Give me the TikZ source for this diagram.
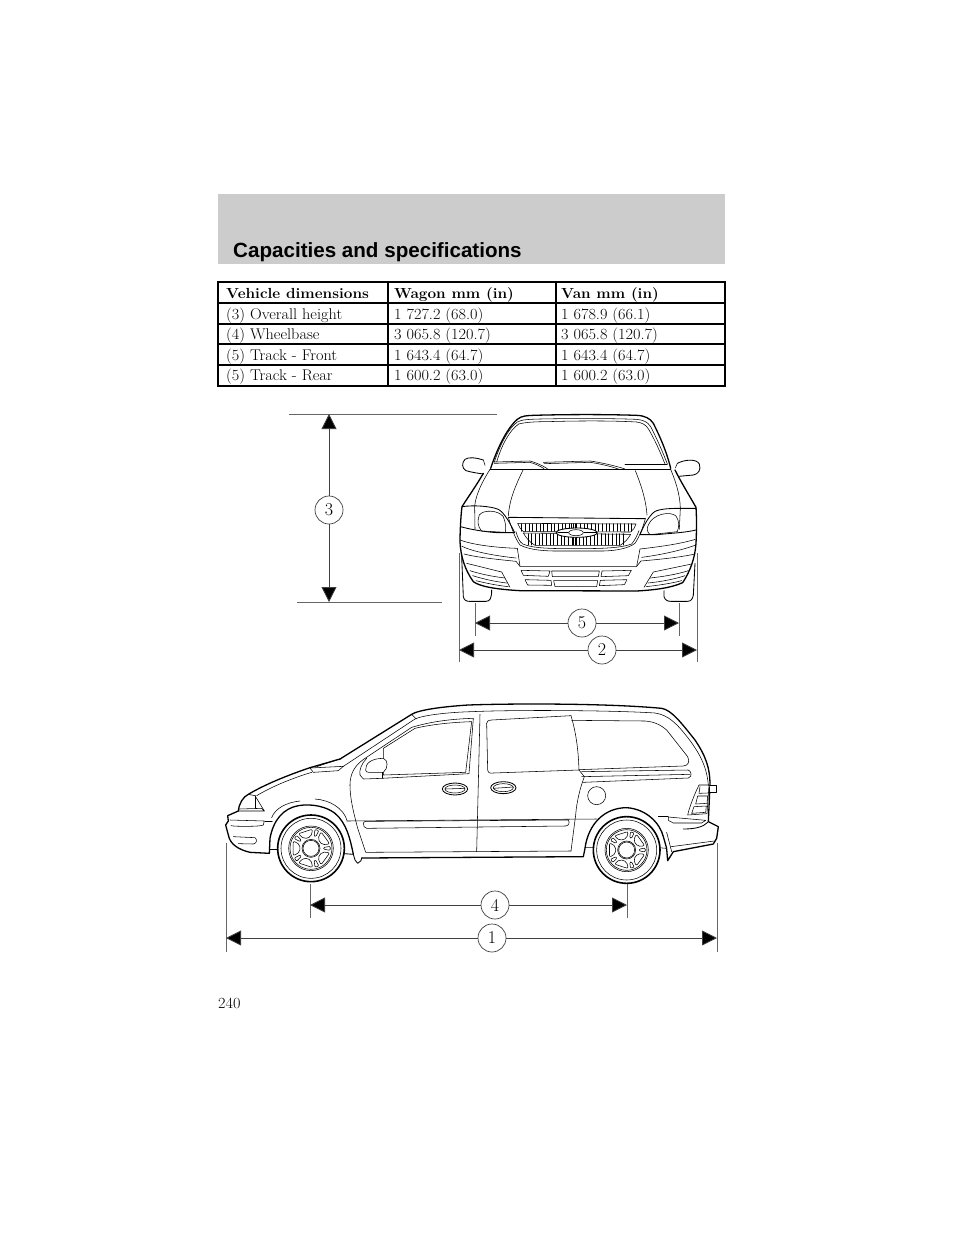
\documentclass[tikz,border=0pt]{standalone}
\usepackage{fontspec}
\usetikzlibrary{arrows.meta}
\newfontfamily\headfont{Liberation Sans}
\newfontfamily\bodyfont[FakeStretch=1.05]{Latin Modern Roman}
\tikzset{
  thin line/.style={line width=0.55pt,line join=round,line cap=round},
  heavy/.style={line width=1.3pt,line join=round,line cap=round},
  med/.style={line width=0.85pt,line join=round,line cap=round},
  dimline/.style={line width=0.8pt,draw=black!75,-{Triangle[length=15pt,width=15pt,fill=black]}},
  extline/.style={line width=0.8pt,draw=black!60},
  callout/.style={circle,draw=black!75,line width=0.7pt,fill=white,minimum size=28pt,inner sep=0pt,font=\fontsize{18}{18}\selectfont},
  cell/.style={anchor=base west,inner sep=0pt,font=\bodyfont\fontsize{15.5}{16}\selectfont},
  hcell/.style={anchor=base west,inner sep=0pt,font=\bodyfont\fontsize{14.6}{16}\selectfont\bfseries},
  zoomed/.style={x=0.33333pt,y=-0.33333pt}
}
\newcommand{\wheelart}[3]{% cx cy scale
  \begin{scope}[shift={(#1,#2)}]
    \draw[heavy,fill=white,line width=1.6pt] (0,0) circle (100);
    \draw[thin line] (0,0) circle (90);
    \draw[thin line] (0,0) circle (#3);
    \draw[thin line] (0,0) circle (#3-4);
    \draw[thin line] (0,0) circle (27);
    \draw[thin line] (0,0) circle (24);
    \foreach \a in {0,72,144,216,288}{
      \draw[thin line,rounded corners=1pt] (\a-4:38) -- (\a-6:#3-9) -- (\a+6:#3-9) -- (\a+4:38) -- cycle;
      \draw[thin line,rounded corners=2pt] (\a+36-18:35) -- (\a+36-23:#3-9) -- (\a+36+23:#3-9) -- (\a+36+18:35) -- cycle;
    }
  \end{scope}
}
\begin{document}
\begin{tikzpicture}[x=1pt,y=-1pt]
\useasboundingbox (0,0) rectangle (960,1242);
\fill[white] (0,0) rectangle (960,1242);
% header band
\fill[black!20] (218,194) rectangle (725,264);
\node[anchor=base west,inner sep=0pt,font=\headfont\fontsize{20.6}{22}\selectfont\bfseries] (title) at (233,257) {Capacities and specifications};

% table
\draw[line width=1.6pt] (218,282) rectangle (725,386);
\foreach \yy in {303,324,344,365} \draw[line width=1.4pt] (218,\yy) -- (725,\yy);
\foreach \xx in {388,556} \draw[line width=1.4pt] (\xx,282) -- (\xx,386);
\node[hcell] (h1) at (226,298) {Vehicle dimensions};
\node[hcell] (h2) at (394,298) {Wagon mm (in)};
\node[hcell] (h3) at (561,298) {Van mm (in)};
\node[cell] (a1) at (226,319) {(3) Overall height};
\node[cell] (a2) at (394,319) {1 727.2 (68.0)};
\node[cell] (a3) at (561,319) {1 678.9 (66.1)};
\node[cell] (b1) at (226,339.5) {(4) Wheelbase};
\node[cell] (b2) at (394,339.5) {3 065.8 (120.7)};
\node[cell] (b3) at (561,339.5) {3 065.8 (120.7)};
\node[cell] (c1) at (226,360) {(5) Track - Front};
\node[cell] (c2) at (394,360) {1 643.4 (64.7)};
\node[cell] (c3) at (561,360) {1 643.4 (64.7)};
\node[cell] (d1) at (226,380) {(5) Track - Rear};
\node[cell] (d2) at (394,380) {1 600.2 (63.0)};
\node[cell] (d3) at (561,380) {1 600.2 (63.0)};
\node[cell] (page) at (218,1008) {240};

% FRONT VIEW
\begin{scope}[shift={(440,400)},zoomed]
  % tyres
  \draw[med,fill=white] (65,470) -- (70,590) .. controls (72,600) and (78,604) .. (88,604) -- (138,604) .. controls (150,604) and (155,595) .. (155,570);
  \draw[med,fill=white] (672,572) -- (672,590) .. controls (675,600) and (682,604) .. (692,604) -- (742,604) .. controls (752,604) and (758,598) .. (760,585) -- (765,490);
  % mirrors
  \draw[med,fill=white] (130,180) .. controls (110,173) and (85,170) .. (75,178) .. controls (65,188) and (65,205) .. (78,212) .. controls (95,217) and (115,220) .. (130,222);
  \draw[med,fill=white] (712,190) .. controls (735,178) and (770,176) .. (778,192) .. controls (784,210) and (775,222) .. (760,225) -- (716,229);
  \draw[thin line] (130,180) -- (135,196);
  \draw[thin line] (712,190) -- (706,204);
  % body outline
  \draw[heavy] (152,205) .. controls (170,150) and (200,85) .. (232,58) .. controls (245,47) and (260,47) .. (280,46)
     .. controls (380,43) and (500,43) .. (590,46) .. controls (615,47) and (630,55) .. (640,70) .. controls (660,110) and (680,155) .. (692,205);
  \draw[heavy] (130,220) .. controls (110,255) and (85,290) .. (66,320) .. controls (62,350) and (60,400) .. (60,425) .. controls (62,470) and (75,510) .. (100,545) .. controls (120,560) and (170,568) .. (240,572) -- (590,573) .. controls (640,570) and (690,565) .. (728,548) .. controls (750,515) and (765,475) .. (768,430) .. controls (770,395) and (770,350) .. (768,322) .. controls (750,290) and (725,250) .. (705,210);
  % windshield
  \draw[thin line] (163,186) .. controls (180,135) and (205,85) .. (232,66) .. controls (245,58) and (270,58) .. (300,57) .. controls (400,55) and (510,55) .. (590,58) .. controls (610,60) and (622,65) .. (632,80) .. controls (650,115) and (668,155) .. (682,192);
  \draw[thin line] (170,186) .. controls (185,135) and (208,92) .. (236,72) .. controls (260,66) and (290,65) .. (320,65) .. controls (420,62) and (520,62) .. (590,66) .. controls (606,68) and (618,74) .. (626,88) .. controls (645,120) and (660,155) .. (675,192);
  \draw[thin line] (163,186) -- (270,183) .. controls (285,187) and (305,195) .. (322,206);
  \draw[thin line] (163,190) -- (270,187) .. controls (285,191) and (300,198) .. (312,206);
  \draw[thin line] (310,187) -- (450,183) .. controls (480,187) and (525,197) .. (555,207);
  \draw[thin line] (312,191) -- (450,187) .. controls (480,191) and (515,200) .. (535,207);
  \draw[thin line] (555,192) -- (682,192);
  \draw[med] (150,207) -- (692,207);
  % hood lines
  \draw[thin line] (250,208) .. controls (225,260) and (208,300) .. (205,348);
  \draw[thin line] (586,212) .. controls (605,260) and (618,300) .. (621,345);
  \draw[thin line] (150,208) .. controls (130,240) and (108,280) .. (104,318) -- (105,388);
  \draw[thin line] (692,208) .. controls (705,240) and (720,280) .. (721,325) -- (718,388);
  % grille surround
  \draw[med] (205,352) -- (616,356);
  \draw[thin line] (205,352) .. controls (215,385) and (225,415) .. (240,435) .. controls (265,448) and (300,452) .. (340,453) -- (490,453) .. controls (530,452) and (565,445) .. (585,430) .. controls (598,410) and (608,385) .. (616,356);
  \draw[thin line] (228,395) .. controls (232,410) and (238,425) .. (248,432) .. controls (280,445) and (330,446) .. (400,446) .. controls (480,446) and (540,445) .. (575,432) .. controls (585,420) and (592,405) .. (597,392);
  % grille
  \draw[thin line] (233,370) -- (588,372) .. controls (585,382) and (580,390) .. (572,396) -- (250,395) .. controls (242,388) and (236,380) .. (233,370) -- cycle;
  \draw[thin line] (250,399) -- (572,403) .. controls (565,415) and (555,428) .. (540,436) -- (285,436) .. controls (270,428) and (257,412) .. (250,399) -- cycle;
  \foreach \gx in {245,256,...,575}{\draw[thin line] (\gx,371) -- (\gx,394);}
  \foreach \gx in {264,275,...,556}{\draw[thin line] (\gx,401) -- (\gx,435);}
  \draw[med,fill=white] (410,398) ellipse (62 and 14);
  \draw[thin line,fill=white] (408,398) ellipse (22 and 9);
  \draw[thin line] (353,398) -- (385,398) (432,398) -- (470,398);
  \draw[thin line] (395,371) -- (395,384) (405,371) -- (405,384) (400,412) -- (400,435) (410,412) -- (410,435);
  % headlights
  \draw[med] (66,320) .. controls (100,315) and (150,318) .. (175,328) .. controls (195,340) and (210,370) .. (224,398) -- (170,398) .. controls (130,395) and (90,388) .. (62,380);
  \draw[thin line] (118,345) .. controls (130,328) and (175,330) .. (190,350) .. controls (198,370) and (198,385) .. (196,397) -- (125,393) .. controls (112,380) and (112,360) .. (118,345) -- cycle;
  \draw[med] (768,325) -- (720,325) .. controls (680,325) and (650,328) .. (640,338) .. controls (622,355) and (610,380) .. (600,404) -- (650,404) .. controls (690,400) and (735,398) .. (768,390);
  \draw[thin line] (625,375) .. controls (638,342) and (690,332) .. (708,348) .. controls (718,362) and (718,380) .. (712,395) -- (630,404) .. controls (620,395) and (620,385) .. (625,375) -- cycle;
  % bumper
  \draw[thin line] (60,420) .. controls (100,435) and (170,443) .. (232,445);
  \draw[thin line] (65,438) .. controls (95,455) and (170,468) .. (228,474);
  \draw[thin line] (72,462) .. controls (110,472) and (170,478) .. (228,484) -- (240,499) -- (590,499) -- (603,483) .. controls (660,478) and (720,472) .. (765,462);
  \draw[thin line] (232,445) -- (240,499) (600,447) -- (590,499);
  \draw[thin line] (600,447) .. controls (660,440) and (720,432) .. (766,418);
  \draw[thin line] (605,472) .. controls (660,465) and (720,452) .. (765,436);
  % fog vents left
  \draw[thin line] (80,490) -- (185,516) -- (210,562);
  \draw[thin line] (90,512) .. controls (120,522) and (160,530) .. (195,534);
  \draw[thin line] (98,527) .. controls (130,537) and (165,545) .. (200,549);
  \draw[thin line] (108,542) .. controls (140,550) and (170,556) .. (205,560);
  % fog vents right
  \draw[thin line] (755,492) -- (640,516) -- (612,562);
  \draw[thin line] (745,512) .. controls (715,522) and (670,530) .. (630,534);
  \draw[thin line] (735,527) .. controls (705,537) and (665,545) .. (624,549);
  \draw[thin line] (725,542) .. controls (695,550) and (655,556) .. (618,560);
  % lower vents
  \draw[thin line] (243,511) -- (330,513) -- (325,529) -- (250,526) -- cycle;
  \draw[thin line] (335,513) -- (478,513) -- (475,530) -- (337,530) -- cycle;
  \draw[thin line] (486,513) -- (574,511) -- (565,527) -- (483,530) -- cycle;
  \draw[thin line] (255,539) -- (333,541) -- (335,556) -- (263,555) -- cycle;
  \draw[thin line] (341,542) -- (473,542) -- (470,560) -- (345,560) -- cycle;
  \draw[thin line] (481,541) -- (561,539) -- (553,554) -- (478,557) -- cycle;
\end{scope}

% SIDE VIEW
\begin{scope}[shift={(215,695)},zoomed]
  % outline
  \draw[heavy] (70,348) .. controls (72,325) and (85,305) .. (100,298) .. controls (150,268) and (220,240) .. (285,218) -- (375,192) -- (590,58) .. controls (610,45) and (680,35) .. (760,30)
     .. controls (900,25) and (1180,25) .. (1340,40) .. controls (1370,45) and (1400,85) .. (1440,135) .. controls (1470,180) and (1485,215) .. (1485,270) -- (1480,380) -- (1510,395) -- (1505,430) -- (1495,447) -- (1375,470) -- (1358,497) -- (1355,462);
  \draw[heavy] (1355,460) -- (1345,425) .. controls (1335,385) and (1295,342) .. (1235,338) .. controls (1170,338) and (1120,385) .. (1110,460) -- (1105,485) -- (440,489);
  \draw[heavy] (415,478) .. controls (405,430) and (395,385) .. (360,355) .. controls (335,335) and (290,325) .. (250,332) .. controls (205,340) and (175,375) .. (165,430) -- (163,475) -- (105,472) .. controls (75,465) and (45,450) .. (40,420) -- (32,390) -- (40,378) -- (38,362) -- (70,348);
  \draw[med] (440,489) -- (438,497) -- (428,505) -- (420,495) -- (415,478) -- (388,476);
  \draw[thin line] (190,462) -- (163,462);
  \draw[thin line] (1110,458) -- (1135,458) (1330,458) -- (1355,460);
  % lamp and front
  \draw[thin line] (72,342) -- (140,340) -- (148,348) -- (72,348);
  \draw[thin line] (100,298) -- (120,302) -- (148,348);
  \draw[thin line] (120,302) -- (120,340);
  \draw[thin line] (125,302) .. controls (170,275) and (230,250) .. (290,232);
  \draw[thin line] (45,375) -- (148,378) -- (145,390) .. controls (140,395) and (60,395) .. (48,392);
  \draw[thin line] (150,378) -- (172,378);
  \draw[thin line] (55,425) -- (120,428) .. controls (128,435) and (125,445) .. (115,447) -- (70,446);
  % wiper/cowl
  \draw[thin line] (285,219) -- (385,214) -- (370,227) -- (295,232) -- cycle;
  \draw[thin line] (305,215) -- (370,193) -- (378,192);
  % fender dashes
  \draw[thin line] (170,368) .. controls (180,340) and (215,322) .. (255,318);
  \draw[thin line] (300,312) .. controls (345,315) and (385,340) .. (396,376);
  % roof inner lines
  \draw[thin line] (385,214) -- (600,72) .. controls (620,62) and (690,52) .. (770,50) .. controls (900,44) and (1200,46) .. (1320,54) .. controls (1360,60) and (1385,85) .. (1420,130) .. controls (1450,170) and (1475,210) .. (1480,270);
  \draw[thin line] (590,58) -- (604,72);
  % front door frame
  \draw[thin line] (405,270) .. controls (405,235) and (420,210) .. (450,190) -- (590,97) .. controls (640,82) and (700,72) .. (775,70) -- (762,236) -- (500,250) -- (445,252) -- (435,240) .. controls (432,225) and (440,205) .. (455,190);
  \draw[thin line] (505,160) -- (600,100) .. controls (650,88) and (710,82) .. (770,80) -- (752,232) -- (505,240) -- cycle;
  \draw[thin line,fill=white] (452,225) .. controls (450,205) and (470,190) .. (505,190) .. controls (520,195) and (520,220) .. (505,232) -- (462,232) .. controls (455,232) and (452,230) .. (452,225) -- cycle;
  \draw[thin line] (502,232) -- (502,250);
  \draw[thin line] (405,270) .. controls (405,310) and (415,350) .. (428,400) -- (452,472) -- (1068,468);
  % pillars
  \draw[thin line] (795,58) -- (785,470);
  \draw[thin line] (815,85) .. controls (815,78) and (820,76) .. (830,75) -- (1068,62);
  \draw[thin line] (815,85) -- (818,225) .. controls (820,235) and (825,235) .. (835,234) -- (1092,225);
  \draw[thin line] (1068,62) .. controls (1085,120) and (1090,170) .. (1092,225) -- (1108,245) .. controls (1095,280) and (1085,320) .. (1082,360) -- (1068,468);
  % rear quarter window
  \draw[thin line] (1070,76) -- (1290,78) .. controls (1320,80) and (1340,92) .. (1355,105) -- (1418,185) .. controls (1425,200) and (1420,212) .. (1405,213) -- (1092,224);
  \draw[thin line] (1100,230) -- (1420,225) .. controls (1430,230) and (1432,245) .. (1420,249) -- (1105,262);
  \draw[thin line] (1100,245) -- (1425,238);
  \draw[thin line] (1145,302) circle (27);
  % door handles
  \draw[med] (720,282) ellipse (38 and 18);
  \draw[thin line] (720,282) ellipse (30 and 12);
  \draw[thin line] (690,282) -- (750,280);
  \draw[med] (865,278) ellipse (38 and 18);
  \draw[thin line] (865,278) ellipse (30 and 12);
  \draw[thin line] (835,280) -- (895,276);
  % belt line and moulding
  \draw[thin line] (395,378) -- (1145,372);
  \draw[thin line] (445,385) .. controls (445,380) and (450,379) .. (455,379) -- (1060,375) .. controls (1065,382) and (1062,392) .. (1052,393) -- (455,400) .. controls (448,400) and (445,392) .. (445,385) -- cycle;
  \draw[thin line] (1330,365) -- (1360,365);
  % tail lamp
  \draw[thin line] (1452,270) -- (1482,270) -- (1476,356) -- (1418,360) .. controls (1425,330) and (1440,295) .. (1452,270) -- cycle;
  \draw[thin line] (1455,275) -- (1452,295) -- (1478,294);
  \draw[thin line] (1448,303) -- (1478,303) -- (1476,325) -- (1442,327) -- cycle;
  \draw[thin line] (1437,335) -- (1474,333) -- (1472,352) -- (1430,355) -- cycle;
  \draw[med,fill=white] (1484,272) -- (1505,272) -- (1505,291) -- (1484,291);
  % rear bumper
  \draw[thin line] (1360,366) -- (1472,376) -- (1460,384) -- (1375,384) -- (1360,376) -- cycle;
  \draw[med] (1405,402) .. controls (1440,402) and (1465,396) .. (1478,382);
  \draw[thin line] (1355,412) -- (1370,470);
  \draw[thin line] (1368,455) -- (1498,438);
  % wheels
  \wheelart{288}{460}{67}
  \wheelart{1235}{465}{65}
\end{scope}

% dimension 3
\coordinate (h3a) at (289,414); \coordinate (h3b) at (497,414);
\coordinate (h3c) at (297,602); \coordinate (h3d) at (442,602);
\draw[extline] (h3a) -- (h3b);
\draw[extline] (h3c) -- (h3d);
\coordinate (v3t) at (329,414); \coordinate (v3b) at (329,602);
\node[callout] (n3) at (329,510) {3};
\draw[dimline] (n3) -- (v3t);
\draw[dimline] (n3) -- (v3b);
% dimension 5
\coordinate (e5a) at (475,603); \coordinate (e5b) at (475,636);
\coordinate (e5c) at (679,603); \coordinate (e5d) at (679,636);
\draw[extline] (e5a) -- (e5b);
\draw[extline] (e5c) -- (e5d);
\coordinate (l5) at (475,623); \coordinate (r5) at (679,623);
\node[callout] (n5) at (582,623) {5};
\draw[dimline] (n5) -- (l5);
\draw[dimline] (n5) -- (r5);
% dimension 2
\coordinate (e2a) at (459,553); \coordinate (e2b) at (459,662);
\coordinate (e2c) at (697,553); \coordinate (e2d) at (697,662);
\draw[extline] (e2a) -- (e2b);
\draw[extline] (e2c) -- (e2d);
\coordinate (l2) at (459,650); \coordinate (r2) at (697,650);
\node[callout] (n2) at (602,650) {2};
\draw[dimline] (n2) -- (l2);
\draw[dimline] (n2) -- (r2);
% dimension 4
\coordinate (e4a) at (310,884); \coordinate (e4b) at (310,918);
\coordinate (e4c) at (627,884); \coordinate (e4d) at (627,918);
\draw[extline] (e4a) -- (e4b);
\draw[extline] (e4c) -- (e4d);
\coordinate (l4) at (310,905); \coordinate (r4) at (627,905);
\node[callout] (n4) at (495,905) {4};
\draw[dimline] (n4) -- (l4);
\draw[dimline] (n4) -- (r4);
% dimension 1
\coordinate (e1a) at (226,843); \coordinate (e1b) at (226,952);
\coordinate (e1c) at (717,843); \coordinate (e1d) at (717,952);
\draw[extline] (e1a) -- (e1b);
\draw[extline] (e1c) -- (e1d);
\coordinate (l1) at (226,938); \coordinate (r1) at (717,938);
\node[callout] (n1) at (492,938) {1};
\draw[dimline] (n1) -- (l1);
\draw[dimline] (n1) -- (r1);
\end{tikzpicture}
\end{document}
